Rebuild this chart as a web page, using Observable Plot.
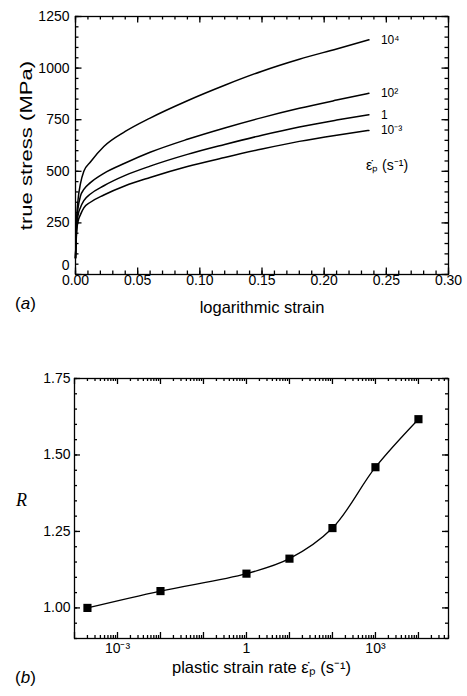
<!DOCTYPE html>
<html><head><meta charset="utf-8">
<script src="https://cdn.jsdelivr.net/npm/d3@7"></script>
<script src="https://cdn.jsdelivr.net/npm/@observablehq/plot@0.6"></script>
<style>
body{margin:0;background:#fff;}
#wrap{width:467px;height:696px;overflow:hidden;}
#wrap svg{display:block;}
</style></head><body><div id="wrap"></div>
<script>
// ---- Panel (a): true stress vs logarithmic strain ----
const strain = [0, 0.001, 0.002, 0.004, 0.0067, 0.012, 0.0228, 0.04, 0.06, 0.09, 0.12, 0.15, 0.18, 0.21, 0.236];
const stressE4  = [80, 280, 360, 440, 500, 545, 620, 693, 758, 842, 917, 985, 1043, 1093, 1137];
const stressE2  = [80, 260, 320, 380, 412, 445, 490, 540, 592, 655, 710, 760, 805, 845, 878];
const stressE0  = [80, 235, 285, 325, 358, 390, 430, 480, 525, 582, 630, 675, 715, 748, 774];
const stressEm3 = [80, 215, 255, 290, 323, 350, 385, 430, 470, 523, 567, 608, 645, 675, 698];
const curveLabels = ["10⁴", "10²", "1", "10⁻³"];
const curveStress = [stressE4, stressE2, stressE0, stressEm3];
const xMajorA = [0, 0.05, 0.10, 0.15, 0.20, 0.25, 0.30];
const yMajorA = [0, 250, 500, 750, 1000, 1250];

// ---- Panel (b): R vs plastic strain rate ----
const rate = [2e-4, 1e-2, 1, 10, 100, 1000, 1e4];
const R    = [1.00, 1.055, 1.112, 1.161, 1.261, 1.46, 1.617];
const xLabelTicksB = [1e-3, 1, 1e3];
const xLabelTextB  = ["10⁻³", "1", "10³"];
const yMajorB = [1.00, 1.25, 1.50, 1.75];

const FONT = "'Liberation Sans', Arial, Helvetica, sans-serif";
const TICK = "#000";

const curves = curveStress.flatMap((arr, k) => strain.map((e, i) => ({strain: e, stress: arr[i], rate: curveLabels[k]})));
const ends = curveStress.map((arr, k) => ({strain: strain[strain.length - 1], stress: arr[arr.length - 1], label: curveLabels[k]}));

const xMinorA = d3.range(0, 0.3001, 0.01).map(v => +v.toFixed(2));
const yMinorA = d3.range(0, 1250.1, 50);

// fraction of the way along a domain, for linear or log scales
const linAt = ([lo, hi]) => f => lo + f * (hi - lo);
const logAt = ([lo, hi]) => f => lo * Math.pow(hi / lo, f);

// inward tick stubs on all four sides of the frame
function frameTicks({xTicks, yTicks, size, fw, fh, xAt, yAt, sw = 1.3}) {
  const fy = size / fh, fx = size / fw;
  const marks = [];
  if (xTicks) {
    marks.push(Plot.ruleX(xTicks, {x: d => d, y1: yAt(0), y2: yAt(fy), stroke: TICK, strokeWidth: sw}));
    marks.push(Plot.ruleX(xTicks, {x: d => d, y1: yAt(1 - fy), y2: yAt(1), stroke: TICK, strokeWidth: sw}));
  }
  if (yTicks) {
    marks.push(Plot.ruleY(yTicks, {y: d => d, x1: xAt(0), x2: xAt(fx), stroke: TICK, strokeWidth: sw}));
    marks.push(Plot.ruleY(yTicks, {y: d => d, x1: xAt(1 - fx), x2: xAt(1), stroke: TICK, strokeWidth: sw}));
  }
  return marks;
}

const AW = 467, AH = 340, AML = 75, AMR = 19, AMT = 16, AMB = 66;
const afw = AW - AML - AMR, afh = AH - AMT - AMB;
const xDomA = [0, 0.3], yDomA = [0, 1250];
const tA = {fw: afw, fh: afh, xAt: linAt(xDomA), yAt: linAt(yDomA)};

const A = Plot.plot({
  width: AW, height: AH,
  marginLeft: AML, marginRight: AMR, marginTop: AMT, marginBottom: AMB,
  style: {fontFamily: FONT, fontSize: "14px", color: "#000", background: "#fff", overflow: "visible"},
  x: {type: "linear", domain: xDomA},
  y: {type: "linear", domain: yDomA},
  marks: [
    Plot.frame({stroke: "#000", strokeWidth: 1.3}),
    ...frameTicks({...tA, xTicks: xMinorA, yTicks: yMinorA, size: 3.5}),
    ...frameTicks({...tA, xTicks: xMajorA, yTicks: yMajorA, size: 6.5}),
    Plot.axisX(xMajorA, {anchor: "bottom", tickSize: 0, tickPadding: 1, tickFormat: d3.format(".2f"), label: null, fontSize: 14}),
    Plot.axisY(yMajorA.slice(1), {anchor: "left", tickSize: 0, tickPadding: 6, tickFormat: d => String(d), label: null, fontSize: 14}),
    Plot.axisY(yMajorA.slice(0, 1), {anchor: "left", tickSize: 0, tickPadding: 6, dy: -9, tickFormat: d => String(d), label: null, fontSize: 14}),
    Plot.line(curves, {x: "strain", y: "stress", z: "rate", curve: "monotone-x", stroke: "#000", strokeWidth: 1.5}),
    Plot.text(ends, {x: "strain", y: "stress", text: "label", dx: 12, textAnchor: "start", fontSize: 12}),
    Plot.text(ends.slice(-1), {x: "strain", y: "stress", text: () => "ε̇ₚ (s⁻¹)", dx: -3, dy: 35, textAnchor: "start", fontSize: 14}),
    Plot.text(["logarithmic strain"], {frameAnchor: "bottom", dy: 38, textAnchor: "middle", fontSize: 16.5}),
    Plot.text(["true stress (MPa)"], {frameAnchor: "left", dx: -49, rotate: -90, textAnchor: "middle", fontSize: 17}),
    Plot.text(["(a)"], {frameAnchor: "bottom-left", dx: -50, dy: 34, textAnchor: "middle", fontSize: 17})
  ]
});

const decades = d3.range(-4, 5).map(d => Math.pow(10, d));
const minorB = decades.flatMap(p => d3.range(2, 10).map(k => k * p)).filter(v => v <= 5e4);
const yMinorB = d3.range(0.90, 1.7501, 0.05).map(v => +v.toFixed(2));
const pts = rate.map((r, i) => ({rate: r, R: R[i]}));

const BW = 467, BH = 356, BML = 74, BMR = 19, BMT = 38, BMB = 58;
const bfw = BW - BML - BMR, bfh = BH - BMT - BMB;
const xDomB = [1e-4, 5e4], yDomB = [0.9, 1.75];
const tB = {fw: bfw, fh: bfh, xAt: logAt(xDomB), yAt: linAt(yDomB)};

const B = Plot.plot({
  width: BW, height: BH,
  marginLeft: BML, marginRight: BMR, marginTop: BMT, marginBottom: BMB,
  style: {fontFamily: FONT, fontSize: "14px", color: "#000", background: "#fff", overflow: "visible"},
  x: {type: "log", domain: xDomB},
  y: {type: "linear", domain: yDomB},
  marks: [
    Plot.frame({stroke: "#000", strokeWidth: 1.3}),
    ...frameTicks({...tB, xTicks: minorB, yTicks: yMinorB, size: 3}),
    ...frameTicks({...tB, xTicks: decades, yTicks: yMajorB, size: 6}),
    Plot.axisX(xLabelTicksB, {anchor: "bottom", tickSize: 0, tickPadding: 5, tickFormat: d => xLabelTextB[xLabelTicksB.indexOf(d)], label: null, fontSize: 14}),
    Plot.axisY(yMajorB, {anchor: "left", tickSize: 0, tickPadding: 4, tickFormat: d3.format(".2f"), label: null, fontSize: 14}),
    Plot.line(pts, {x: "rate", y: "R", curve: "catmull-rom", stroke: "#000", strokeWidth: 1.3}),
    Plot.dot(pts, {x: "rate", y: "R", symbol: "square", r: 4.6, fill: "#000", stroke: "none"}),
    Plot.text(["plastic strain rate ε̇ₚ (s⁻¹)"], {frameAnchor: "bottom", dy: 34, textAnchor: "middle", fontSize: 16.5}),
    Plot.text(["R"], {frameAnchor: "left", dx: -53, dy: -8, textAnchor: "middle", fontSize: 18, fontStyle: "italic", fontFamily: "'Liberation Serif', 'Times New Roman', serif"}),
    Plot.text(["(b)"], {frameAnchor: "bottom-left", dx: -49, dy: 44, textAnchor: "middle", fontSize: 17})
  ]
});

function italicize(svg, full, letter) {
  d3.select(svg).selectAll("text").filter(function() { return this.textContent === full; }).each(function() {
    const t = d3.select(this);
    t.text("");
    t.append("tspan").text("(");
    t.append("tspan").attr("font-style", "italic").text(letter);
    t.append("tspan").text(")");
  });
}
italicize(A, "(a)", "a");
italicize(B, "(b)", "b");
// the reference's rotated axis title is drawn elongated along its length
d3.select(A).selectAll("text").filter(function() { return this.textContent === "true stress (MPa)"; })
  .each(function() {
    const tr = this.getAttribute("transform") || "";
    this.setAttribute("transform", tr + " scale(1.3,1)");
  });

document.getElementById("wrap").append(A, B);
</script>
</body></html>
